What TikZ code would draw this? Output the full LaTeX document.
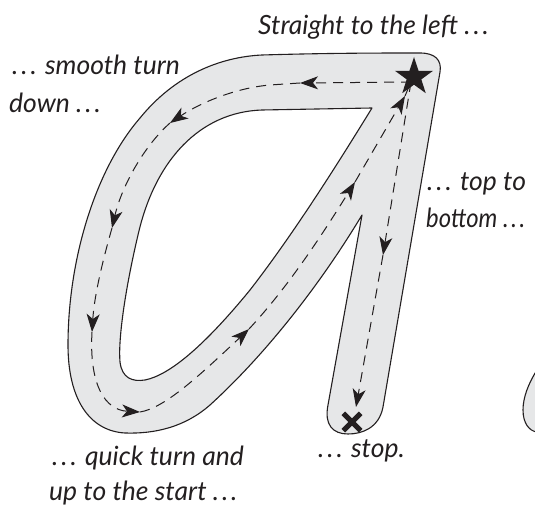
\documentclass[tikz,border=0pt]{standalone}
\usepackage{fontspec}
\usepackage{graphicx}
\setmainfont{Lato}
\usetikzlibrary{arrows.meta,shapes.geometric}
\definecolor{bandgray}{RGB}{230,231,232}
\definecolor{inkc}{RGB}{35,31,32}
\newcommand\trio{.\hspace{3pt}.\hspace{3pt}.}
\begin{document}
\begin{tikzpicture}[x=1pt,y=-1pt,
  outline/.style={draw=inkc, line width=1.1pt, line join=round},
  trail/.style={draw=inkc, line width=1pt, dash pattern=on 10pt off 7pt},
  tip/.style={-{Stealth[length=18pt,width=13pt,inset=5pt]}},
  lbl/.style={anchor=base west, inner sep=0, text=inkc,
    font=\fontsize{26.5}{32}\selectfont\itshape}]
\useasboundingbox (0,0) rectangle (535,513);

% grey band of the letter
\path[outline, fill=bandgray] (262,55) .. controls (330,53) and (380,53) .. (420,53)
  .. controls (435,53) and (442,60) .. (440,72) -- (383,407)
  .. controls (379,428) and (362,434) .. (348,434)
  .. controls (333,434) and (324,425) .. (328,405) -- (362,215)
  .. controls (320,285) and (265,355) .. (210,405)
  .. controls (185,427) and (155,434) .. (125,433)
  .. controls (90,431) and (68,400) .. (68,345)
  .. controls (68,260) and (95,170) .. (140,118)
  .. controls (175,75) and (220,57) .. (262,55) -- cycle;
% counter (hole)
\path[outline, fill=white] (372,108) -- (262,110)
  .. controls (200,112) and (155,160) .. (138,235)
  .. controls (125,290) and (118,340) .. (120,362)
  .. controls (122,378) and (132,382) .. (145,380)
  .. controls (170,375) and (205,345) .. (250,290)
  .. controls (295,232) and (340,160) .. (372,108) -- cycle;
% part of the next letter at the right edge
\path[outline, fill=bandgray] (537,370) .. controls (528,384) and (523,398) .. (523,410)
  .. controls (523,423) and (529,431) .. (537,432);

% way points
\coordinate (S) at (411,82);
\coordinate (T1) at (300,83);
\coordinate (T2) at (170,123);
\coordinate (T3) at (112,228);
\coordinate (T4) at (92,332);
\coordinate (T5) at (140,412);
\coordinate (T6) at (249,329);
\coordinate (T7) at (355,182);
\coordinate (T8) at (405,96);
\coordinate (T9) at (383,255);
\coordinate (T10) at (356,407);

\draw[trail,tip] (S) -- (T1);
\draw[trail,tip] (T1) -- (270,85) .. controls (235,88) and (200,103) .. (T2);
\draw[trail,tip] (T2) .. controls (145,145) and (122,185) .. (T3);
\draw[trail,tip] (T3) .. controls (100,270) and (94,300) .. (T4);
\draw[trail,tip] (T4) .. controls (89,385) and (105,410) .. (T5);
\draw[trail,tip] (T5) .. controls (165,408) and (200,375) .. (T6);
\draw[trail,tip] (T6) .. controls (290,285) and (325,230) .. (T7);
\draw[trail,tip] (T7) -- (T8);
\draw[trail] (T8) -- (S);
\draw[trail,tip] (S) -- (T9);
\draw[trail,tip] (T9) -- (T10);

% start star and stop cross
\node[star, star points=5, star point ratio=2.6, fill=inkc, inner sep=0,
  minimum size=40pt] (start) at (414,77) {};
\node[inner sep=0, minimum size=17pt] (stop) at (352,422) {};
\draw[inkc, line width=5pt] (stop.north west) -- (stop.south east)
  (stop.north east) -- (stop.south west);

% labels
\node[lbl] (l1) at (258,35) {Straight to the left \trio};
\node[lbl] (l2) at (12,75) {\trio{} smooth turn};
\node[lbl] (l3) at (9,113) {down \trio};
\node[lbl] (l4) at (427,190) {\trio{} top to};
\node[lbl] (l5) at (426,227) {\scalebox{0.9}[1]{bottom \trio}};
\node[lbl] (l6) at (52,465) {\trio{} quick turn and};
\node[lbl] (l7) at (49,500) {up to the start \trio};
\node[lbl] (l8) at (318,457) {\trio{} stop.};
\end{tikzpicture}
\end{document}
